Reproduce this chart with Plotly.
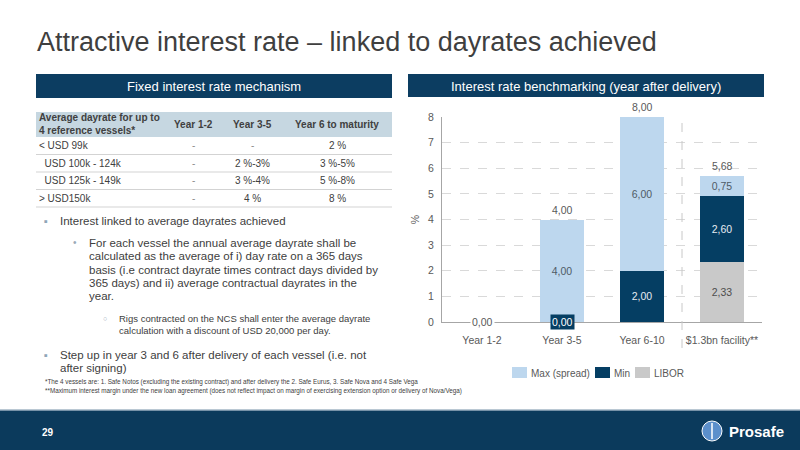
import plotly.graph_objects as go

W, H = 800, 450
FONT = "Liberation Sans, Arial, sans-serif"
NAVY = "#0C3D61"
GREY_TXT = "#404040"

# chart data
categories = ["Year 1-2", "Year 3-5", "Year 6-10", "$1.3bn facility**"]
libor = [0, 0, 0, 2.33]
min_margin = [0, 0, 2.00, 2.60]
max_spread = [0, 4.00, 6.00, 0.75]
series_colors = {"LIBOR": "#C9C9C9", "Min": "#053E63", "Max (spread)": "#BDD7EE"}

# table data
table_header = ["Average dayrate for up to<br>4 reference vessels*", "Year 1-2", "Year 3-5", "Year 6 to maturity"]
dayrate_bands = ["< USD 99k", "\u00a0\u00a0USD 100k - 124k", "\u00a0\u00a0USD 125k - 149k", "> USD150k"]
rate_y1_2 = ["-", "-", "-", "-"]
rate_y3_5 = ["-", "2 %-3%", "3 %-4%", "4 %"]
rate_y6 = ["2 %", "3 %-5%", "5 %-8%", "8 %"]

bullet1 = ["Interest linked to average dayrates achieved"]
sub_bullet = ["For each vessel the annual average dayrate shall be",
              "calculated as the average of i) day rate on a 365 days",
              "basis (i.e contract dayrate times contract days divided by",
              "365 days) and ii) average contractual dayrates in the",
              "year."]
subsub_bullet = ["Rigs contracted on the NCS shall enter the average dayrate",
                 "calculation with a discount of USD 20,000 per day."]
bullet2 = ["Step up in year 3 and 6 after delivery of each vessel (i.e. not",
           "after signing)"]
footnotes = ["*The 4 vessels are: 1. Safe Notos (excluding the existing contract) and after delivery the 2. Safe Eurus, 3. Safe Nova and 4 Safe Vega",
             "**Maximum interest margin under the new loan agreement (does not reflect impact on margin of exercising extension option or delivery of Nova/Vega)"]


def px(x):
    return x / W


def py(y):
    return 1 - y / H


def fmt(v):
    return f"{v:.2f}".replace(".", ",")


fig = go.Figure()

# stacked bars, bottom segment first
for name, vals, tcolor in [("LIBOR", libor, "#4D4D4D"),
                           ("Min", min_margin, "#E6ECF2"),
                           ("Max (spread)", max_spread, "#4F5B66")]:
    fig.add_trace(go.Bar(
        name=name, x=categories, y=vals, marker_color=series_colors[name], marker_line_width=0,
        text=[fmt(v) if v else "" for v in vals], textposition="inside",
        insidetextanchor="middle", textangle=0, constraintext="none",
        textfont=dict(color=tcolor, size=10.5, family=FONT),
        hoverinfo="skip", showlegend=False
    ))

ann = []
shapes = []

# total / zero labels
for i, cat in enumerate(categories):
    total = libor[i] + min_margin[i] + max_spread[i]
    if total > 0:
        ann.append(dict(x=cat, y=total, xref="x", yref="y", text=fmt(total), showarrow=False,
                        yanchor="bottom", yshift=2, font=dict(size=10.5, color="#595959")))
        if min_margin[i] == 0:
            ann.append(dict(x=cat, y=0, xref="x", yref="y", text=fmt(0), showarrow=False,
                            bgcolor=series_colors["Min"], borderpad=1, font=dict(size=10.5, color="#FFFFFF")))
    else:
        ann.append(dict(x=cat, y=0, xref="x", yref="y", text=fmt(total), showarrow=False,
                        bgcolor="#FFFFFF", borderpad=1, font=dict(size=10.5, color="#595959")))

# separator before the facility bar
shapes.append(dict(type="line", xref="x", yref="paper", x0=2.5, x1=2.5, y0=py(348), y1=py(117),
                   line=dict(color="#C8C8C8", width=1, dash="dash")))


def text(x, y, s, size=12, color=GREY_TXT, anchor="left", bold=False):
    if bold:
        s = "<b>" + s + "</b>"
    ann.append(dict(x=px(x), y=py(y), xref="paper", yref="paper", text=s, showarrow=False,
                    xanchor=anchor, yanchor="middle", align=anchor if anchor != "center" else "center",
                    font=dict(size=size, color=color, family=FONT)))


def rect(x0, y0, x1, y1, color):
    shapes.append(dict(type="rect", xref="paper", yref="paper", x0=px(x0), x1=px(x1),
                       y0=py(y1), y1=py(y0), fillcolor=color, line_width=0, layer="below"))


# legend (drawn by hand to get the compact spacing)
legend_items = [("Max (spread)", 512), ("Min", 595), ("LIBOR", 635)]
for name, lx in legend_items:
    rect(lx, 367, lx + 15, 378, series_colors[name])
    text(lx + 17, 373, name, size=10, color="#595959")

# title
text(35, 42, "Attractive interest rate \u2013 linked to dayrates achieved", size=27, color="#3F3F3F")

# section headers
rect(36, 74, 392, 98, NAVY)
text(214, 86, "Fixed interest rate mechanism", size=13, color="#FFFFFF", anchor="center")
rect(408, 74, 764, 97, NAVY)
text(586, 86, "Interest rate benchmarking (year after delivery)", size=13, color="#FFFFFF", anchor="center")

# table
rect(36, 112, 392, 137, "#C6D7E1")
col_x = [37, 193, 253, 337]
text(col_x[0], 124.5, table_header[0], size=10, bold=True)
for cx, h in zip(col_x[1:], table_header[1:]):
    text(cx, 124.5, h, size=10, anchor="center", bold=True)
row_h = 17.5
for r in range(len(dayrate_bands)):
    yc = 137 + row_h * (r + 0.5)
    text(col_x[0], yc, dayrate_bands[r], size=10)
    for cx, col in zip(col_x[1:], [rate_y1_2, rate_y3_5, rate_y6]):
        text(cx, yc, col[r], size=10, anchor="center", color="#404040" if col[r] != "-" else "#8C8C8C")
    yb = 137 + row_h * (r + 1)
    shapes.append(dict(type="line", xref="paper", yref="paper", x0=px(36), x1=px(392),
                       y0=py(yb), y1=py(yb), line=dict(color="#D3D3D3", width=1)))

# bullets
text(42, 220.5, "\u25aa", size=11, color="#8FA6B8")
text(58, 220.5, bullet1[0], size=11.5)
text(71, 242.7, "\u2022", size=10, color="#9AAAB8")
for k, line in enumerate(sub_bullet):
    text(87, 242.7 + 13.4 * k, line, size=11.5)
text(101, 318.5, "\u25cb", size=7, color="#9AAAB8")
for k, line in enumerate(subsub_bullet):
    text(117, 318.5 + 11.5 * k, line, size=9.5)
text(42, 355, "\u25aa", size=11, color="#8FA6B8")
for k, line in enumerate(bullet2):
    text(58, 355 + 13 * k, line, size=11.5)
for k, line in enumerate(footnotes):
    text(43, 381.5 + 9 * k, line, size=6.3)

# footer band
rect(0, 411, 800, 450, "#0B3A5C")
rect(0, 409.5, 800, 411, "#7792A8")
text(40, 432, "29", size=10, color="#FFFFFF", bold=True)
shapes.append(dict(type="circle", xref="paper", yref="paper", x0=px(702), x1=px(722),
                   y0=py(441), y1=py(421), fillcolor="#5B8FCB", line=dict(color="#FFFFFF", width=1)))
shapes.append(dict(type="line", xref="paper", yref="paper", x0=px(712), x1=px(712),
                   y0=py(439), y1=py(423), line=dict(color="#FFFFFF", width=1.5)))
text(727, 431, "Prosafe", size=15, color="#FFFFFF", bold=True)

fig.update_layout(
    autosize=True, margin=dict(l=0, r=0, t=0, b=0, pad=0),
    paper_bgcolor="#FFFFFF", plot_bgcolor="#FFFFFF",
    font=dict(family=FONT, color="#595959"),
    barmode="stack", bargap=0.45,
    showlegend=False,
    xaxis=dict(domain=[px(442), px(762)], type="category", showline=True, linecolor="#A6A6A6",
               automargin=False, ticks="", ticklabelstandoff=8,
               tickfont=dict(size=10.5, color="#595959"), showgrid=False),
    yaxis=dict(domain=[py(322), py(117)], range=[0, 8], dtick=1, showline=True, linecolor="#A6A6A6",
               automargin=False, showgrid=True, gridcolor="#D9D9D9", griddash="dash", zeroline=False,
               ticks="", ticklabelstandoff=5, tickfont=dict(size=10.5, color="#595959"),
               title=dict(text="%", font=dict(size=10.5, color="#595959"), standoff=6)),
    annotations=ann, shapes=shapes,
)

# let the figure fill the whole window
page_css = ("document.documentElement.style.cssText='margin:0;padding:0;height:100%;overflow:hidden';"
            "document.body.style.cssText='margin:0;padding:0;height:100%;overflow:hidden';"
            "var d=document.getElementById('{plot_id}');"
            "d.style.position='fixed';d.style.left='0';d.style.top='0';"
            "d.style.width='100vw';d.style.height='100vh';"
            "Plotly.Plots.resize(d);")
fig.write_html("out.html", post_script=page_css, default_width="100%", default_height="100%",
               config={"displayModeBar": False, "responsive": True})
